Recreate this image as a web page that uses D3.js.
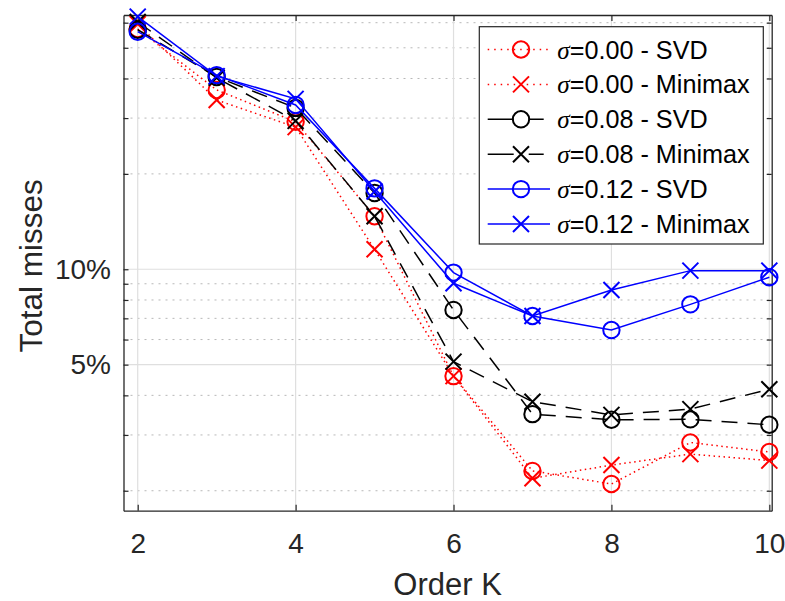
<!DOCTYPE html>
<html><head><meta charset="utf-8">
<script src="https://cdn.jsdelivr.net/npm/d3@7"></script>
<style>body{margin:0;background:#fff}</style>
</head><body><svg id="c" width="785" height="601"></svg>
<script>
// ---------- data ----------
const orderK = [2, 3, 4, 5, 6, 7, 8, 9, 10];
const svd000  = [0.573, 0.368, 0.292, 0.147, 0.0460, 0.0231, 0.0210, 0.0284, 0.0265];
const mm000   = [0.594, 0.342, 0.281, 0.1156, 0.0460, 0.0219, 0.0241, 0.0261, 0.0249];
const svd008  = [0.570, 0.4045, 0.323, 0.174, 0.0744, 0.0349, 0.0335, 0.0336, 0.0323];
const mm008   = [0.603, 0.402, 0.294, 0.147, 0.0511, 0.0382, 0.0347, 0.0362, 0.0418];
const svd012  = [0.562, 0.410, 0.330, 0.180, 0.0976, 0.0712, 0.0643, 0.0775, 0.0944];
const mm012   = [0.627, 0.407, 0.345, 0.176, 0.0903, 0.0712, 0.0860, 0.0990, 0.0990];
const sigmaLabels = ["0.00", "0.00", "0.08", "0.08", "0.12", "0.12"];
const methodLabels = ["SVD", "Minimax", "SVD", "Minimax", "SVD", "Minimax"];
const xTickValues = [2, 4, 6, 8, 10];
const yMajorValues = [0.05, 0.1];
const yMajorLabels = ["5%", "10%"];
const yMinorValues = [0.02, 0.03, 0.04, 0.06, 0.07, 0.08, 0.09, 0.2, 0.3, 0.4, 0.5, 0.6];
const xLabel = "Order K";
const yLabel = "Total misses";

// ---------- styles ----------
const seriesValues = [svd000, mm000, svd008, mm008, svd012, mm012];
const seriesStyle = [
  {color: "#ff0000", dash: "1.5,3.5", legendDash: "1.5,5", marker: "o"},
  {color: "#ff0000", dash: "1.5,3.5", legendDash: "1.5,5", marker: "x"},
  {color: "#000000", dash: "16,10", legendDash: "26,15,15,100", marker: "o"},
  {color: "#000000", dash: "16,10", legendDash: "26,15,15,100", marker: "x"},
  {color: "#0000ff", dash: null, legendDash: null, marker: "o"},
  {color: "#0000ff", dash: null, legendDash: null, marker: "x"}
];

const L = 123.5, R = 771.7, T = 15, B = 510.7;
const svg = d3.select("#c");
const font = "'Liberation Sans', Arial, Helvetica, sans-serif";
const axisColor = "#262626";

const x = d3.scaleLinear().domain([1.82, 10.03]).range([L, R]);
const y = d3.scaleLog().domain([0.0173, 0.6345]).range([B, T]);

svg.append("rect").attr("x", 0).attr("y", 0).attr("width", 785).attr("height", 601).attr("fill", "#fff");

// grid
const grid = svg.append("g");
grid.selectAll(".ymin").data(yMinorValues).enter().append("line")
  .attr("x1", L).attr("x2", R).attr("y1", d => y(d)).attr("y2", d => y(d))
  .attr("stroke", "#b8b8b8").attr("stroke-width", 1).attr("stroke-dasharray", "2,5");
grid.selectAll(".ymaj").data(yMajorValues).enter().append("line")
  .attr("x1", L).attr("x2", R).attr("y1", d => y(d)).attr("y2", d => y(d))
  .attr("stroke", "#dfdfdf").attr("stroke-width", 1.2);
grid.selectAll(".xmaj").data(xTickValues).enter().append("line")
  .attr("y1", T).attr("y2", B).attr("x1", d => x(d)).attr("x2", d => x(d))
  .attr("stroke", "#dfdfdf").attr("stroke-width", 1.2);

// axes
const yAll = yMajorValues.concat(yMinorValues);
const fmtY = d => { const i = yMajorValues.indexOf(d); return i >= 0 ? yMajorLabels[i] : ""; };
const gL = svg.append("g").attr("transform", `translate(${L},0)`)
  .call(d3.axisLeft(y).tickValues(yAll).tickFormat(fmtY).tickSizeInner(-5).tickSizeOuter(0).tickPadding(12.5));
const gR = svg.append("g").attr("transform", `translate(${R},0)`)
  .call(d3.axisRight(y).tickValues(yAll).tickFormat("").tickSizeInner(-5).tickSizeOuter(0));
const gB = svg.append("g").attr("transform", `translate(0,${B})`)
  .call(d3.axisBottom(x).tickValues(xTickValues).tickFormat(d3.format("d")).tickSizeInner(-6).tickSizeOuter(0).tickPadding(22.3));
const gT = svg.append("g").attr("transform", `translate(0,${T})`)
  .call(d3.axisTop(x).tickValues(xTickValues).tickFormat("").tickSizeInner(-6).tickSizeOuter(0));
[gL, gR, gB, gT].forEach(g => {
  g.selectAll("path.domain").attr("stroke", axisColor).attr("stroke-width", 1.3);
  g.selectAll(".tick line").attr("stroke", axisColor).attr("stroke-width", 1.2);
  g.selectAll("text").attr("fill", axisColor).style("font-family", font).style("font-size", "28px");
});

// series
const line = d3.line().x(d => x(d[0])).y(d => y(d[1]));
const plot = svg.append("g");
function drawMarker(g, type, cx, cy, color) {
  if (type === "o") {
    g.append("circle").attr("cx", cx).attr("cy", cy).attr("r", 8.2)
      .attr("fill", "none").attr("stroke", color).attr("stroke-width", 2);
  } else {
    const s = 8;
    g.append("path").attr("d", `M${cx - s},${cy - s}L${cx + s},${cy + s}M${cx - s},${cy + s}L${cx + s},${cy - s}`)
      .attr("fill", "none").attr("stroke", color).attr("stroke-width", 2);
  }
}
seriesValues.forEach((vals, i) => {
  const st = seriesStyle[i];
  const pts = orderK.map((k, j) => [k, vals[j]]);
  const g = plot.append("g");
  g.append("path").attr("d", line(pts)).attr("fill", "none").attr("stroke", st.color)
    .attr("stroke-width", 1.5).attr("stroke-dasharray", st.dash);
  pts.forEach(p => drawMarker(g, st.marker, x(p[0]), y(p[1]), st.color));
});

// axis labels
svg.append("text").attr("x", (L + R) / 2).attr("y", 595).attr("text-anchor", "middle")
  .attr("fill", axisColor).style("font-family", font).style("font-size", "31px").text(xLabel);
svg.append("text").attr("transform", `translate(42,${(T + B) / 2 + 3}) rotate(-90)`).attr("text-anchor", "middle")
  .attr("fill", axisColor).style("font-family", font).style("font-size", "31.5px").text(yLabel);

// legend
const lg = svg.append("g");
lg.append("rect").attr("x", 479.3).attr("y", 26.7).attr("width", 284).attr("height", 217.3)
  .attr("fill", "#fff").attr("stroke", axisColor).attr("stroke-width", 1.2);
seriesStyle.forEach((st, i) => {
  const cy = 49.5 + i * 34.9;
  lg.append("line").attr("x1", 487.7).attr("x2", 550).attr("y1", cy).attr("y2", cy)
    .attr("stroke", st.color).attr("stroke-width", 1.5).attr("stroke-dasharray", st.legendDash);
  drawMarker(lg, st.marker, 521, cy, st.color);
  const t = lg.append("text").attr("x", 557.3).attr("y", cy).attr("dy", "0.36em")
    .attr("fill", "#000").style("font-family", font).style("font-size", "25.2px");
  t.append("tspan").style("font-family", "'Liberation Serif', 'DejaVu Serif', serif").style("font-style", "italic").text("σ");
  t.append("tspan").text("=" + sigmaLabels[i] + " - " + methodLabels[i]);
});
</script>
</body></html>
